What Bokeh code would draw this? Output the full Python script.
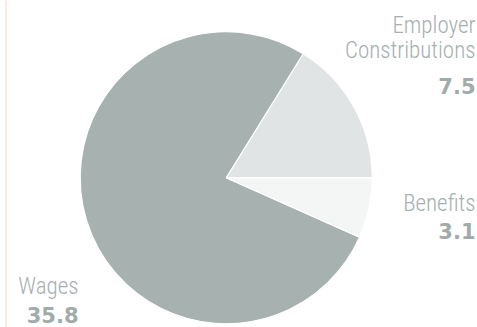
import math
from bokeh.plotting import figure
from bokeh.models import Range1d, ColumnDataSource
from bokeh.core.properties import value
from bokeh.embed import file_html
from bokeh.resources import INLINE

categories = ["Employer\nConstributions", "Wages", "Benefits"]
values = [7.5, 35.8, 3.1]
value_labels = ["7.5", "35.8", "3.1"]
colors = ["#e0e4e4", "#a7b1b0", "#f4f6f5"]

W, H = 477, 327
p = figure(width=W, height=H, output_backend="svg", toolbar_location=None,
           x_range=Range1d(0, W), y_range=Range1d(0, H), min_border=0)
p.axis.visible = False
p.grid.visible = False
p.outline_line_color = None
p.background_fill_color = "white"
p.border_fill_color = "white"

total = sum(values)
starts, ends = [], []
acc = 0.0
for v in values:
    starts.append(2 * math.pi * acc / total)
    acc += v
    ends.append(2 * math.pi * acc / total)

cx, cy, r = 225.7, H - 177.3, 146
src = ColumnDataSource(dict(start=starts, end=ends, color=colors))
p.wedge(x=cx, y=cy, radius=r, start_angle="start", end_angle="end",
        fill_color="color", line_color="white", line_width=1.2, source=src)

# left rule
p.line(x=[5.5, 5.5], y=[0, H], line_color="#f7ebe3", line_width=2)

label_font = value("'Roboto Condensed Light', 'Roboto Condensed', 'Liberation Sans Narrow', Roboto")
num_font = value("DejaVu Sans")
lab_col = "#a6b0af"
off = 7.5
# label anchors (right-aligned): (x, baseline of last name line, baseline of number)
anchors = [(475, H - 57.7, H - 93.3), (78, H - 293.3, H - 321.7), (475, H - 210, H - 238.3)]
for cat, vl, (ax, ly, ny) in zip(categories, value_labels, anchors):
    lines = cat.split("\n")
    for i, ln in enumerate(reversed(lines)):
        p.text(x=[ax], y=[ly + i * 25.4 + off], text=[ln], text_font=label_font,
               text_font_size="23px", text_color=lab_col, text_align="right",
               text_baseline="alphabetic")
    p.text(x=[ax], y=[ny + off], text=[vl], text_font=num_font,
           text_font_size="21px", text_font_style="bold", text_color="#a0abaa",
           text_align="right", text_baseline="alphabetic")

open("out.html", "w").write(file_html(p, INLINE))
